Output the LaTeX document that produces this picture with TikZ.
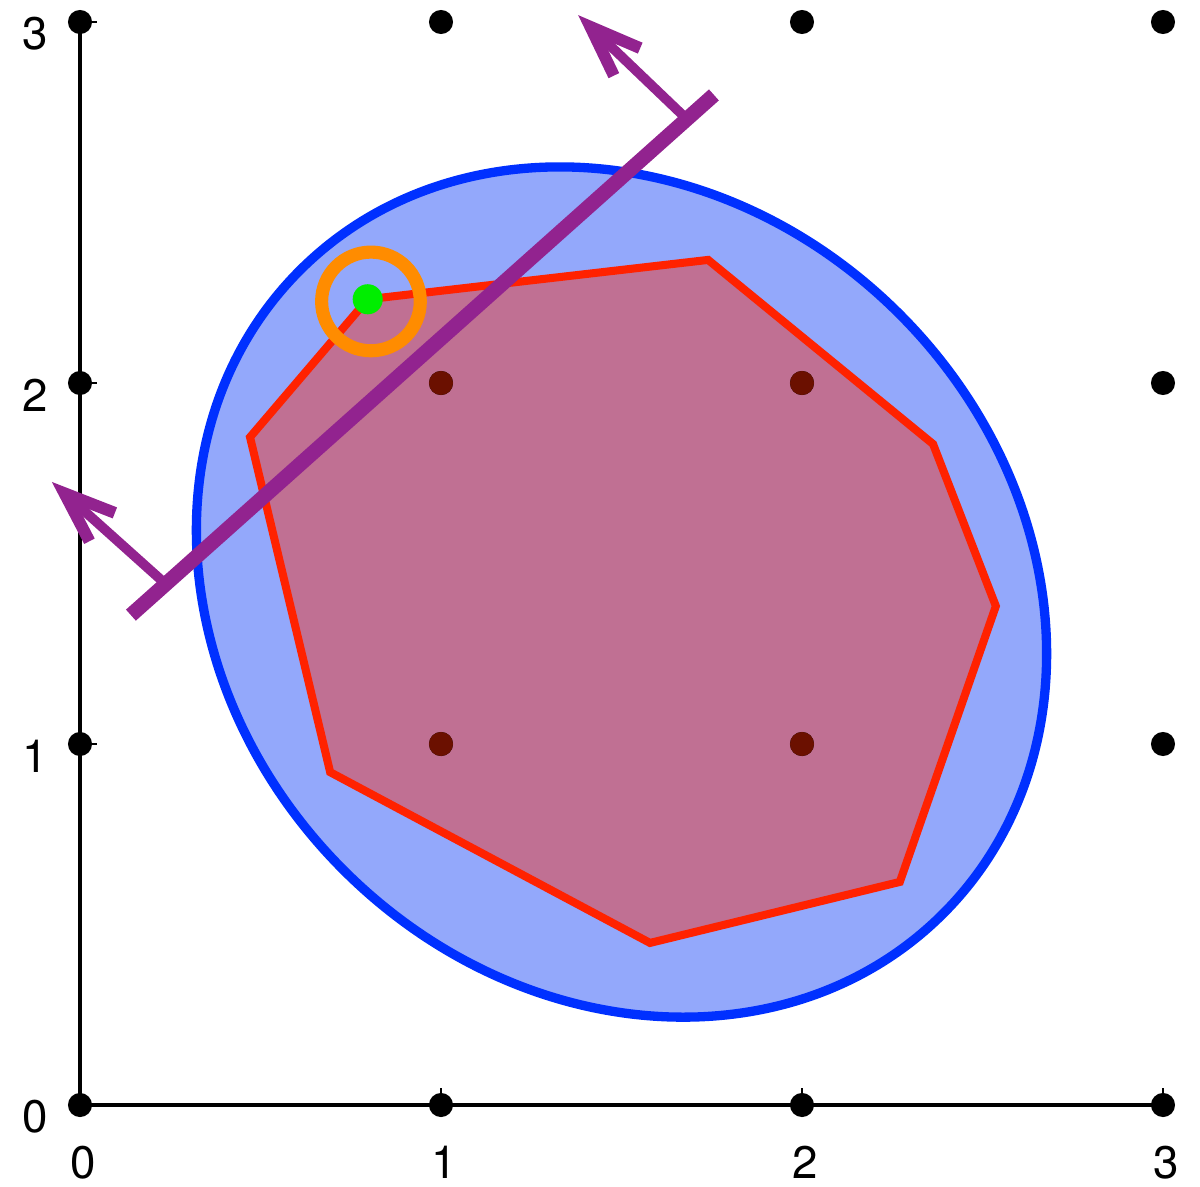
\documentclass[tikz,border=0pt]{standalone}
\usepackage{fontspec}
\setmainfont{TeX Gyre Heros}
\usepackage{tikz}
\usetikzlibrary{arrows.meta,positioning}

\definecolor{blobfill}{RGB}{147,168,251}
\definecolor{blobline}{RGB}{0,48,255}
\definecolor{polyfill}{RGB}{192,112,147}
\definecolor{polyline}{RGB}{255,34,0}
\definecolor{cutcol}{RGB}{146,35,143}
\definecolor{ringcol}{RGB}{255,140,0}
\definecolor{ptcol}{RGB}{0,238,0}
\definecolor{indot}{RGB}{107,16,0}

\begin{document}
\begin{tikzpicture}[
    x=3cm, y=3cm,
    axis/.style={line width=0.8pt},
    tick/.style={line width=0.5pt},
    lattice/.style={circle, fill=black, inner sep=0pt, minimum size=0.2cm},
    inlattice/.style={lattice, fill=indot},
    numlabel/.style={font=\fontsize{10.8}{12}\selectfont, inner sep=0pt},
    blob/.style={draw=blobline, fill=blobfill, line width=2.2pt},
    hull/.style={draw=polyline, fill=polyfill, line width=1.9pt, line join=miter},
    cut/.style={draw=cutcol, line width=3.5pt},
    normal/.style={draw=cutcol, line width=2.3pt, -{Straight Barb[sharp, length=12pt, width=9pt, line width=2.8pt]}}
]
\useasboundingbox (-0.2216,-0.227) rectangle (3.1025,3.061);

% axes
\coordinate (O) at (0,0);
\coordinate (xend) at (3,0);
\coordinate (yend) at (0,3);
\draw[axis] (O) -- (xend);
\draw[axis] (O) -- (yend);
\foreach \i in {0,...,3} {
    \draw[tick] (\i,0) -- (\i,0.047);
    \draw[tick] (0,\i) -- (0.047,\i);
    \node[numlabel] (xl\i) at (0.01+\i,-0.16) {\i};
    \node[numlabel] (yl\i) at (-0.125,\i-0.033) {\i};
}

% convex body
\draw[blob, rotate around={-45:(1.5,1.421)}] (1.5,1.421) ellipse [x radius=1.26, y radius=1.089];

% hull of the lattice points
\coordinate (v1) at (0.797,2.232);
\coordinate (v2) at (1.740,2.341);
\coordinate (v3) at (2.363,1.831);
\coordinate (v4) at (2.537,1.382);
\coordinate (v5) at (2.271,0.618);
\coordinate (v6) at (1.579,0.449);
\coordinate (v7) at (0.693,0.922);
\coordinate (v8) at (0.471,1.850);
\draw[hull] (v1) -- (v2) -- (v3) -- (v4) -- (v5) -- (v6) -- (v7) -- (v8) -- cycle;

% lattice points
\foreach \i in {0,...,3}
    \foreach \j in {0,...,3}
        \node[lattice] (p\i\j) at (\i,\j) {};
\foreach \i in {1,2}
    \foreach \j in {1,2}
        \node[inlattice] (q\i\j) at (\i,\j) {};

% separating line with normals
\coordinate (cutA) at (0.141,1.357);
\coordinate (cutB) at (1.756,2.798);
\coordinate (footA) at (0.241,1.440);
\coordinate (footB) at (1.679,2.733);
\coordinate (tipA) at (-0.078,1.726);
\coordinate (tipB) at (1.380,3.019);
\draw[normal] (footA) -- (tipA);
\draw[normal] (footB) -- (tipB);
\draw[cut] (cutA) -- (cutB);

% marked vertex
\node[circle, draw=ringcol, line width=3.1pt, minimum size=0.82cm, inner sep=0pt] (ring) at (0.806,2.226) {};
\node[circle, fill=ptcol, inner sep=0pt, minimum size=0.25cm] (pt) at (v1) {};
\end{tikzpicture}
\end{document}
